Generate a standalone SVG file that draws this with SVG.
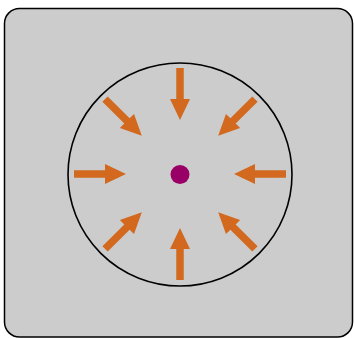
<svg xmlns="http://www.w3.org/2000/svg" width="354" height="338" viewBox="0 0 354 338">
<style>
.bg{fill:#cccccc;stroke:#000;stroke-width:1.5}
.ring{fill:none;stroke:#000;stroke-width:1.6}
.arrow{fill:#d2691e}
.dot{fill:#990066}
</style>
<defs>
<path id="arr" class="arrow" d="M176.25,68 L183.75,68 L183.75,99 L190,99 L180,120 L170,99 L176.25,99 Z"/>
</defs>
<g id="background"><rect class="bg" x="4.5" y="8.5" width="348" height="328.5" rx="15"/></g>
<g id="boundary"><ellipse class="ring" cx="180" cy="174.5" rx="112" ry="111.5"/></g>
<g id="arrows">
<use href="#arr"/>
<use href="#arr" transform="rotate(45 180 174)"/>
<use href="#arr" transform="rotate(90 180 174)"/>
<use href="#arr" transform="rotate(135 180 174)"/>
<use href="#arr" transform="rotate(180 180 174)"/>
<use href="#arr" transform="rotate(225 180 174)"/>
<use href="#arr" transform="rotate(270 180 174)"/>
<use href="#arr" transform="rotate(315 180 174)"/>
</g>
<g id="center"><circle class="dot" cx="180" cy="174.5" r="9.5"/></g>
</svg>
